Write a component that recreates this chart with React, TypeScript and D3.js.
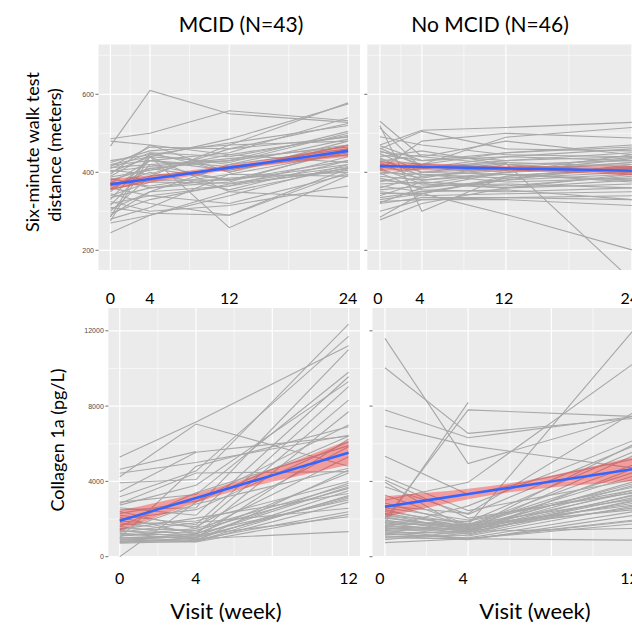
import React from "react";
import * as d3 from "d3";

// visit weeks per outcome
const walkWeeks = [0, 4, 12, 24];
const collagenWeeks = [0, 4, 12];

// six-minute walk distance per subject [wk0, wk4, wk12, wk24]
const mcidWalk = [
  [467, 610, 550, 528], [486, 500, 558, 532], [480, 470, 445, 425], [425, 455, 470, 578],
  [420, 440, 485, 575], [418, 430, 450, 540], [415, 465, 460, 525], [412, 420, 430, 505],
  [410, 450, 440, 495], [405, 395, 460, 490], [400, 440, 258, 392], [395, 470, 400, 470],
  [390, 445, 420, 485], [385, 360, 375, 460], [380, 410, 380, 455], [375, 365, 395, 450],
  [372, 430, 415, 445], [368, 390, 470, 480], [365, 400, 355, 430], [360, 340, 365, 440],
  [355, 380, 380, 420], [350, 430, 405, 470], [345, 320, 290, 410], [340, 375, 372, 415],
  [335, 360, 385, 400], [330, 440, 350, 335], [325, 300, 315, 365], [320, 340, 320, 395],
  [315, 420, 380, 430], [310, 295, 290, 400], [305, 350, 365, 410], [300, 390, 410, 445],
  [295, 330, 370, 405], [290, 350, 420, 460], [285, 450, 400, 480], [280, 310, 395, 390],
  [275, 440, 425, 500], [270, 290, 340, 420], [245, 290, 350, 412], [430, 445, 475, 520],
  [402, 415, 435, 465], [388, 405, 445, 492], [358, 410, 430, 470],
];

const noMcidWalk = [
  [531, 440, 420, 400], [520, 300, 390, 410], [514, 410, 425, 415], [491, 470, 445, 440],
  [470, 508, 515, 528], [460, 505, 460, 455], [455, 420, 490, 515], [452, 440, 480, 445],
  [448, 400, 423, 123], [445, 430, 440, 430], [440, 455, 420, 395], [437, 390, 410, 420],
  [433, 420, 450, 465], [430, 400, 395, 380], [428, 445, 430, 450], [425, 380, 400, 412],
  [420, 410, 440, 460], [415, 395, 385, 400], [412, 420, 412, 438], [410, 370, 400, 445],
  [405, 385, 420, 430], [400, 395, 375, 385], [395, 410, 430, 440], [390, 380, 395, 375],
  [385, 360, 380, 420], [380, 370, 360, 370], [375, 400, 410, 405], [370, 375, 365, 390],
  [365, 350, 380, 395], [360, 390, 405, 425], [355, 365, 370, 360], [350, 340, 345, 350],
  [346, 346, 292, 201], [340, 375, 360, 380], [335, 350, 355, 330], [330, 345, 390, 415],
  [325, 330, 330, 315], [322, 360, 400, 435], [320, 335, 335, 330], [300, 330, 335, 340],
  [285, 345, 385, 410], [278, 320, 360, 395], [468, 430, 450, 470], [462, 415, 400, 425],
  [407, 480, 500, 488], [398, 355, 350, 360],
];

// collagen 1a per subject [wk0, wk4, wk12]
const mcidCollagen = [
  [5300, 7150, 11200], [4250, 7050, 4800], [4650, 5580, null], [4430, 5000, 6450],
  [3930, 4100, 12350], [3450, 5550, 6400], [3190, 4550, 11700], [2830, 4450, 4520],
  [2740, 3800, 9300], [2600, 2200, 9560], [2500, 2600, 11000], [2400, 1500, 8320],
  [2300, 2950, 6990], [2200, 1700, 9030], [2100, 1200, 7700], [2000, 2500, 6100],
  [1900, 1600, 5840], [1800, 1300, 5310], [1700, 1900, 3990], [1600, 1100, 3900],
  [1500, 1400, 3630], [1450, 2050, 3360], [1400, 1000, 3190], [1350, 1250, 3010],
  [1300, 1800, 2570], [1250, 900, 2390], [1200, 1150, 2120], [1150, 950, 1330],
  [1100, 1500, 3800], [1050, 850, 4600], [1000, 1050, 3100], [950, 800, 2900],
  [900, 1200, 4450], [850, 900, 3500], [800, 780, 2250], [760, 1000, 6250],
  [720, 820, 3250], [0, 2900, 6400], [2900, 3300, 9800], [1000, 4800, 6900],
  [1600, 3400, 5900], [1350, 2800, 4700], [900, 1100, 3700],
];

const noMcidCollagen = [
  [11600, 4950, 7500], [10040, 6550, 7350], [7790, 6320, 7450], [6940, 5900, 4700],
  [5340, 3300, 5200], [4250, 2450, 4100], [4070, 2050, 3400], [3950, 1400, 3250],
  [3720, 2250, 5900], [3280, 1700, 12100], [3000, 3950, 10300], [2850, 1650, 4500],
  [2700, 2300, 7700], [2600, 1950, 3700], [2500, 1500, 2850], [2400, 1750, 3050],
  [1800, 8200, null], [2000, 7800, 7450], [2300, 1600, 4300], [2250, 1350, 3550],
  [2150, 1850, 5600], [2100, 1450, 2600], [2050, 1550, 3900], [1950, 1300, 2950],
  [1900, 1700, 4900], [1850, 1500, 6000], [1800, 1200, 3300], [1750, 1650, 2750],
  [1700, 1900, 3550], [1650, 1450, 4000], [1600, 1400, 5400], [1550, 1100, 2700],
  [1500, 1300, 3150], [1450, 1650, 2500], [1400, 950, 1950], [1350, 1550, 3450],
  [1300, 1250, 4700], [1250, 950, 1900], [1200, 1000, 2400], [1150, 1400, 3800],
  [1100, 900, 2200], [1050, 1150, 3000], [1000, 950, 1750], [900, 1350, 1500],
  [750, 950, 880], [1550, 2700, 6200],
];

// linear fit and its confidence half-width
const walkFitWeeks = [0, 6, 12, 18, 24];
const mcidWalkFit = [369, 390, 412, 433, 455];
const mcidWalkBand = [14, 8, 6.5, 9, 15];
const noMcidWalkFit = [416, 413, 410, 407, 404];
const noMcidWalkBand = [12, 8, 6, 8, 12];

const collagenFitWeeks = [0, 2, 4, 6, 8, 10, 12];
const mcidCollagenFit = [1912, 2514, 3116, 3718, 4320, 4922, 5525];
const mcidCollagenBand = [540, 380, 255, 234, 336, 490, 660];
const noMcidCollagenFit = [2656, 2991, 3326, 3661, 3996, 4331, 4666];
const noMcidCollagenBand = [550, 400, 280, 240, 320, 470, 650];

// axis breaks
const walkTicks = [200, 400, 600];
const walkMinorY = [300, 500, 700];
const walkMinorX = [2, 8, 18];
const collagenTicks = [0, 4000, 8000, 12000];
const collagenMinorY = [2000, 6000, 10000];
const collagenMajorX = [0, 4, 8, 12];
const collagenMinorX = [2, 6, 10];

const bigFont = "Lato, 'Open Sans', sans-serif";
const smallFont = "'Liberation Sans', Arial, sans-serif";

const Panel = ({ id, x0, x1, y0, y1, xDomain, yDomain, weeks, majorX, minorX, yTicks, minorY, subjects, fitWeeks, fit, band, showLabels, labelX, labelDx, tickX, xLabelY }) => {
  const x = d3.scaleLinear().domain(xDomain).range([x0, x1]);
  const y = d3.scaleLinear().domain(yDomain).range([y1, y0]);

  const line = d3
    .line()
    .defined((d) => d[1] != null)
    .x((d) => x(d[0]))
    .y((d) => y(d[1]));

  const fitPts = fitWeeks.map((w, i) => ({ w, f: fit[i], lo: fit[i] - band[i], hi: fit[i] + band[i] }));
  const area = d3
    .area()
    .x((d) => x(d.w))
    .y0((d) => y(d.lo))
    .y1((d) => y(d.hi))
    .curve(d3.curveMonotoneX);
  const fitLine = d3
    .line()
    .x((d) => x(d.w))
    .y((d) => y(d.f));

  return (
    <g>
      <defs>
        <clipPath id={id}>
          <rect x={x0} y={y0} width={x1 - x0} height={y1 - y0} />
        </clipPath>
      </defs>
      <rect x={x0} y={y0} width={x1 - x0} height={y1 - y0} fill="#EBEBEB" />
      {minorY.map((v) => (
        <line key={"my" + v} x1={x0} x2={x1} y1={y(v)} y2={y(v)} stroke="#fff" strokeWidth={0.6} />
      ))}
      {minorX.map((v) => (
        <line key={"mx" + v} x1={x(v)} x2={x(v)} y1={y0} y2={y1} stroke="#fff" strokeWidth={0.6} />
      ))}
      {yTicks.map((v) => (
        <line key={"gy" + v} x1={x0} x2={x1} y1={y(v)} y2={y(v)} stroke="#fff" strokeWidth={1.2} />
      ))}
      {majorX.map((v) => (
        <line key={"gx" + v} x1={x(v)} x2={x(v)} y1={y0} y2={y1} stroke="#fff" strokeWidth={1.2} />
      ))}
      <g clipPath={`url(#${id})`}>
        {subjects.map((s, i) => (
          <path
            key={i}
            d={line(weeks.map((w, j) => [w, s[j]]))}
            fill="none"
            stroke="#A8A8A8"
            strokeWidth={1.1}
          />
        ))}
        <path d={area(fitPts)} fill="#FF2020" fillOpacity={0.38} />
        <path d={fitLine(fitPts)} fill="none" stroke="#3366FF" strokeWidth={2.6} />
      </g>
      {yTicks.map((v) => (
        <g key={"t" + v}>
          <line x1={tickX} x2={tickX + 3} y1={y(v)} y2={y(v)} stroke="#333" strokeWidth={0.7} />
          {showLabels && (
            <text
              x={tickX - 1.5}
              y={y(v)}
              dy="0.35em"
              textAnchor="end"
              fontFamily={smallFont}
              fontSize={7}
              fill="#4D4D4D"
            >
              {v}
            </text>
          )}
        </g>
      ))}
      {labelX.map((v) => (
        <text key={"xl" + v} x={x(v) + labelDx} y={xLabelY} textAnchor="middle" fontFamily={bigFont} fontSize={16} fill="#000">
          {v}
        </text>
      ))}
    </g>
  );
};

export default function App() {
  return (
    <svg
      width={632}
      height={628}
      style={{ position: "absolute", left: 0, top: 0, background: "#fff" }}
    >
      <text x={241} y={32} textAnchor="middle" fontFamily={bigFont} fontSize={21}>MCID (N=43)</text>
      <text x={490} y={32} textAnchor="middle" fontFamily={bigFont} fontSize={21}>No MCID (N=46)</text>

      <Panel
        id="cTL" x0={98.5} x1={360} y0={44.5} y1={270}
        xDomain={[-1.2, 25.2]} yDomain={[149.5, 727.7]}
        weeks={walkWeeks} majorX={walkWeeks} minorX={walkMinorX}
        yTicks={walkTicks} minorY={walkMinorY} subjects={mcidWalk}
        fitWeeks={walkFitWeeks} fit={mcidWalkFit} band={mcidWalkBand}
        showLabels={true} tickX={95.5} labelX={walkWeeks} labelDx={0} xLabelY={304}
      />
      <Panel
        id="cTR" x0={367.3} x1={644.5} y0={44.5} y1={270}
        xDomain={[-1.2, 25.2]} yDomain={[149.5, 727.7]}
        weeks={walkWeeks} majorX={walkWeeks} minorX={walkMinorX}
        yTicks={walkTicks} minorY={walkMinorY} subjects={noMcidWalk}
        fitWeeks={walkFitWeeks} fit={noMcidWalkFit} band={noMcidWalkBand}
        showLabels={false} tickX={364.3} labelX={walkWeeks} labelDx={-2} xLabelY={304}
      />
      <Panel
        id="cBL" x0={108.3} x1={360} y0={308} y1={557}
        xDomain={[-0.6, 12.6]} yDomain={[-16, 13211]}
        weeks={collagenWeeks} majorX={collagenMajorX} minorX={collagenMinorX}
        yTicks={collagenTicks} minorY={collagenMinorY} subjects={mcidCollagen}
        fitWeeks={collagenFitWeeks} fit={mcidCollagenFit} band={mcidCollagenBand}
        showLabels={true} tickX={105.3} labelX={collagenWeeks} labelDx={0} xLabelY={584}
      />
      <Panel
        id="cBR" x0={372.5} x1={647} y0={308} y1={557}
        xDomain={[-0.6, 12.6]} yDomain={[-16, 13211]}
        weeks={collagenWeeks} majorX={collagenMajorX} minorX={collagenMinorX}
        yTicks={collagenTicks} minorY={collagenMinorY} subjects={noMcidCollagen}
        fitWeeks={collagenFitWeeks} fit={noMcidCollagenFit} band={noMcidCollagenBand}
        showLabels={false} tickX={369.5} labelX={collagenWeeks} labelDx={-5} xLabelY={584}
      />

      <text transform="translate(39,152) rotate(-90)" textAnchor="middle" fontFamily={bigFont} fontSize={18}>
        Six-minute walk test
      </text>
      <text transform="translate(61,155) rotate(-90)" textAnchor="middle" fontFamily={bigFont} fontSize={18}>
        distance (meters)
      </text>
      <text transform="translate(64,440) rotate(-90)" textAnchor="middle" fontFamily={bigFont} fontSize={18}>
        Collagen 1a (pg/L)
      </text>

      <text x={226} y={619} textAnchor="middle" fontFamily={bigFont} fontSize={22}>Visit (week)</text>
      <text x={535} y={619} textAnchor="middle" fontFamily={bigFont} fontSize={22}>Visit (week)</text>
    </svg>
  );
}
